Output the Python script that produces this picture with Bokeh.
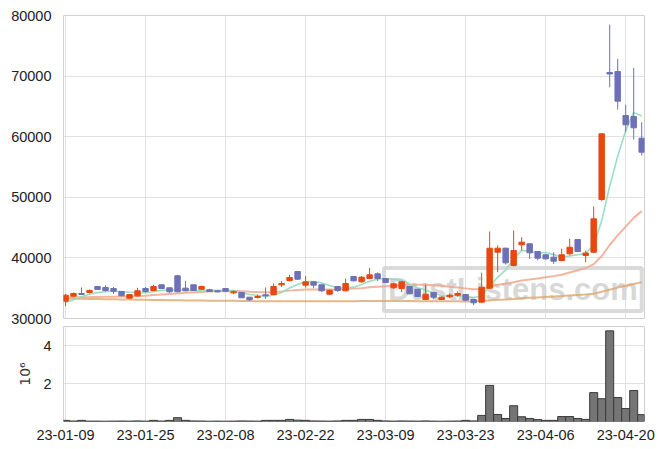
from bokeh.plotting import figure
from bokeh.models import ColumnDataSource, Range1d, FixedTicker, NumeralTickFormatter, Label, Grid
from bokeh.layouts import column
from bokeh.embed import file_html
from bokeh.resources import INLINE

tick_pos = [0, 10, 20, 30, 40, 50, 60, 70]
tick_labels = ["23-01-09", "23-01-25", "23-02-08", "23-02-22", "23-03-09", "23-03-23", "23-04-06", "23-04-20"]

opens = [32855, 33680, 34125, 34290, 35280, 35115, 34950, 34455, 33350, 33745,
         34950, 34620, 35560, 35065, 37045, 35010, 35560, 34835, 34735, 34570,
         34950, 34240, 34290, 33515, 33465, 33910, 33960, 35560, 36270, 37755,
         35500, 36050, 35560, 34010, 35280, 34570, 36930, 36055, 36600, 37375,
         36600, 35065, 34950, 35280, 34835, 33135, 34290, 33135, 33580, 33845,
         33960, 33135, 32690, 35000, 40940, 41600, 38745, 42160, 42325, 41055,
         40510, 40115, 39570, 40675, 43035, 40400, 40940, 49635, 70600, 70755,
         63495, 63330, 59750]
highs = [34050, 34290, 35115, 34785, 35400, 35450, 35200, 34500, 34000, 35065,
         35200, 35560, 35600, 35100, 37210, 36220, 35600, 35440, 34900, 34650,
         35000, 34620, 34300, 33550, 33960, 35115, 35780, 36200, 37210, 37800,
         37000, 36100, 35600, 34750, 35350, 36600, 37000, 37000, 38365, 37600,
         36650, 35900, 36200, 35300, 34900, 35560, 34350, 33600, 34130, 34460,
         34000, 33200, 37540, 44355, 42045, 41700, 44520, 43415, 42400, 41100,
         40600, 40940, 41500, 43150, 43100, 41200, 48480, 60600, 78500, 72850,
         65260, 71365, 62390]
lows = [32030, 33560, 33900, 34125, 34700, 34450, 34050, 33700, 33200, 33580,
        34300, 34500, 34900, 34240, 34350, 34500, 34560, 34780, 34400, 34300,
        34450, 34010, 33400, 32900, 33300, 33250, 33900, 35200, 36100, 36380,
        35100, 35000, 34400, 33900, 34400, 34500, 36100, 35900, 36500, 36200,
        35850, 34900, 34350, 34000, 33550, 33100, 33200, 33050, 33400, 33600,
        32950, 32200, 32600, 34900, 37640, 38900, 38600, 41220, 39830, 39600,
        39700, 39000, 39450, 40400, 41000, 39300, 40800, 49400, 68150, 64485,
        60740, 59535, 56900]
closes = [33845, 34125, 33960, 34620, 34785, 34620, 34500, 33745, 33960, 34570,
          34455, 35280, 34950, 34405, 34405, 34570, 34620, 35280, 34455, 34405,
          34500, 34405, 33415, 33085, 33630, 33745, 35280, 35775, 36765, 36485,
          36050, 35500, 34570, 34670, 34620, 35775, 36220, 36815, 37210, 36600,
          35940, 35725, 36055, 34075, 33630, 34010, 33515, 33515, 33845, 34125,
          33020, 32590, 35165, 41600, 41600, 39190, 41220, 42600, 40840, 39950,
          39850, 39455, 40510, 41765, 41055, 40800, 46450, 60475, 70350, 65855,
          61960, 61465, 57440]
volumes = [60000, 25000, 60000, 20000, 20000, 15000, 20000, 25000, 20000, 30000,
           20000, 60000, 25000, 60000, 200000, 60000, 30000, 25000, 15000, 20000,
           15000, 20000, 30000, 25000, 20000, 60000, 60000, 60000, 110000, 70000,
           60000, 30000, 25000, 20000, 30000, 60000, 60000, 110000, 110000, 60000,
           30000, 20000, 30000, 25000, 20000, 30000, 20000, 15000, 20000, 25000,
           60000, 30000, 320000, 1900000, 370000, 160000, 830000, 250000, 160000, 100000,
           60000, 60000, 260000, 260000, 160000, 110000, 1520000, 1200000, 4770000, 1260000,
           680000, 1630000, 360000]
ma5 = [32640, 33085, 33580, 34000, 34267, 34422, 34497, 34454, 34322, 34279,
       34246, 34402, 34643, 34732, 34699, 34722, 34590, 34656, 34666, 34666,
       34652, 34609, 34236, 33962, 33807, 33656, 33831, 34303, 35039, 35610,
       36071, 36115, 35874, 35455, 35082, 35027, 35171, 35620, 36128, 36524,
       36557, 36458, 36306, 35679, 35085, 34699, 34257, 33749, 33703, 33802,
       33604, 33419, 33749, 35300, 36795, 38029, 39755, 41242, 41090, 40760,
       40892, 40539, 40121, 40306, 40527, 40720, 42119, 46112, 51819, 56779,
       61011, 64014, 63407]
ma20 = [33480, 33500, 33510, 33530, 33560, 33580, 33600, 33620, 33640, 33680,
        33760, 33860, 33960, 34050, 34140, 34230, 34310, 34380, 34440, 34478,
        34511, 34525, 34497, 34421, 34363, 34319, 34358, 34460, 34600, 34696,
        34775, 34786, 34767, 34781, 34791, 34852, 34932, 35008, 35146, 35256,
        35328, 35394, 35526, 35575, 35575, 35589, 35500, 35387, 35241, 35123,
        34972, 34826, 34856, 35203, 35552, 35722, 35972, 36262, 36443, 36611,
        36806, 36993, 37215, 37600, 37971, 38311, 38957, 40305, 42128, 43715,
        45162, 46605, 47719]
ma120 = [33280, 33260, 33240, 33220, 33200, 33180, 33160, 33140, 33120, 33100,
         33080, 33060, 33040, 33020, 33000, 32980, 32960, 32950, 32940, 32930,
         32920, 32910, 32890, 32870, 32860, 32850, 32850, 32850, 32860, 32860,
         32860, 32860, 32850, 32850, 32850, 32850, 32860, 32870, 32880, 32880,
         32880, 32880, 32880, 32870, 32860, 32850, 32840, 32830, 32830, 32830,
         32820, 32810, 32900, 32990, 33080, 33150, 33230, 33330, 33410, 33480,
         33550, 33620, 33700, 33790, 33870, 33950, 34080, 34400, 34750, 35100,
         35400, 35700, 36000]

UP = "#e8480f"
DOWN = "#6d71b7"
FONT = "Liberation Sans"

xs = list(range(len(closes)))
src = ColumnDataSource(dict(
    x=xs, o=opens, h=highs, l=lows, c=closes,
    top=[max(o, c) for o, c in zip(opens, closes)],
    bottom=[min(o, c) for o, c in zip(opens, closes)],
    color=[UP if c >= o else DOWN for o, c in zip(opens, closes)],
    vol=[v / 1e6 for v in volumes],
    ma5=ma5, ma20=ma20, ma120=ma120,
))

xr = Range1d(-0.25, 72.35)
p1 = figure(width=663, height=326, x_range=xr, y_range=Range1d(30000, 80000),
            output_backend="svg", toolbar_location=None, x_axis_location=None,
            min_border_left=63, min_border_right=19, min_border_top=15, min_border_bottom=8)
p1.add_layout(Grid(dimension=0, ticker=FixedTicker(ticks=tick_pos), grid_line_color="#e2e2e2"))
p1.ygrid.grid_line_color = "#e2e2e2"
p1.yaxis.ticker = FixedTicker(ticks=[30000, 40000, 50000, 60000, 70000, 80000])
p1.yaxis.formatter = NumeralTickFormatter(format="0")
p1.outline_line_color = "#d0d0d0"

wm = Label(x=55.9, y=34785, text="DustListens.com", text_align="center", text_baseline="middle",
           text_font=FONT, text_font_style="bold", text_font_size="31px", text_color="#d3d3d3",
           text_alpha=0.9, border_line_color="#d6d6d6", border_line_width=4, border_line_alpha=0.9,
           padding=4, level="underlay")
p1.add_layout(wm)

p1.line("x", "ma120", source=src, line_color="#e0a56c", line_width=2, line_alpha=0.8)
p1.line("x", "ma20", source=src, line_color="#efa486", line_width=2, line_alpha=0.8)
p1.line("x", "ma5", source=src, line_color="#8edbc0", line_width=1.6, line_alpha=0.9)
p1.segment(x0="x", y0="l", x1="x", y1="h", source=src, line_color="color", line_width=1)
p1.vbar(x="x", width=0.68, top="top", bottom="bottom", source=src,
        fill_color="color", line_color="color", line_width=1)

p2 = figure(width=663, height=123, x_range=xr, y_range=Range1d(0, 5.0),
            output_backend="svg", toolbar_location=None,
            min_border_left=63, min_border_right=19, min_border_top=0, min_border_bottom=28)
p2.vbar(x="x", width=1.0, top="vol", bottom=0, source=src,
        fill_color="#757575", line_color="#3a3a3a", line_width=1)
p2.xaxis.ticker = FixedTicker(ticks=tick_pos)
p2.xaxis.major_label_overrides = {t: s for t, s in zip(tick_pos, tick_labels)}
p2.xgrid.ticker = FixedTicker(ticks=tick_pos)
p2.yaxis.ticker = FixedTicker(ticks=[2, 4])
p2.yaxis.axis_label = "10⁶"
p2.yaxis.axis_label_text_font = "DejaVu Sans"
p2.yaxis.axis_label_text_font_style = "normal"
p2.yaxis.axis_label_text_font_size = "14px"
p2.yaxis.axis_label_text_color = "#333333"
p2.yaxis.axis_label_standoff = 7
p2.xgrid.grid_line_color = "#e2e2e2"
p2.ygrid.grid_line_color = "#e2e2e2"
p2.outline_line_color = "#d0d0d0"

for p in (p1, p2):
    for ax in p.axis:
        ax.axis_line_color = None
        ax.major_tick_line_color = None
        ax.minor_tick_line_color = None
        ax.major_label_text_font = FONT
        ax.major_label_text_font_size = "14.5px"
        ax.major_label_text_color = "#222222"
        ax.major_label_standoff = 6
p2.xaxis.major_label_standoff = 2

layout = column(p1, p2, spacing=0)
open("out.html", "w").write(file_html(layout, INLINE))
